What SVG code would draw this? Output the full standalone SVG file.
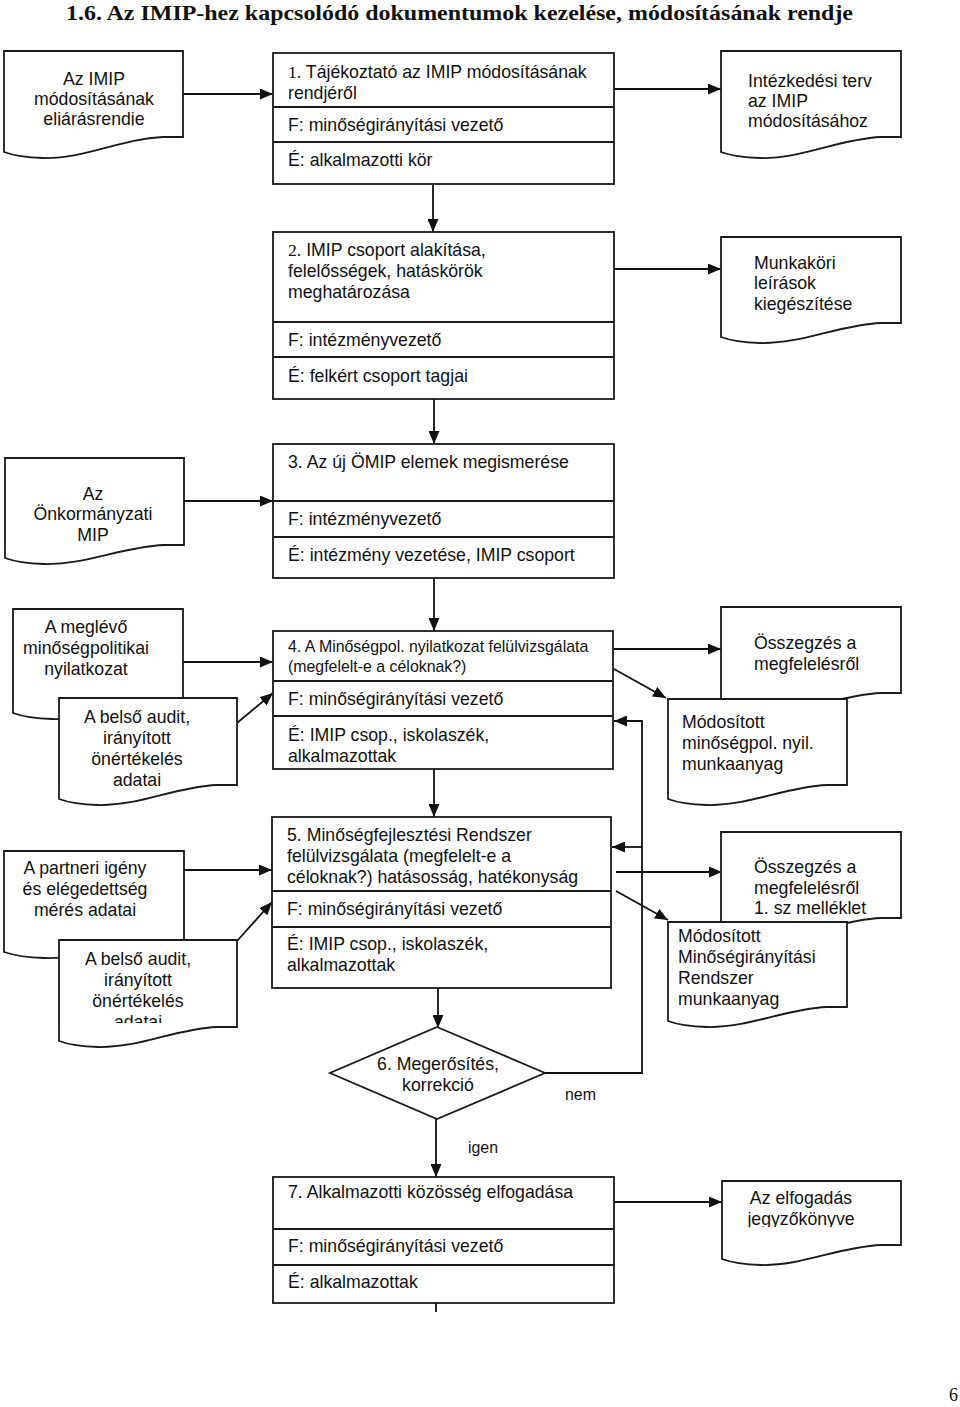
<svg xmlns="http://www.w3.org/2000/svg" width="960" height="1407" viewBox="0 0 960 1407">
<defs>
<style>
.bx{fill:#fff;stroke:#1a1a1a;stroke-width:1.8}
.dv{fill:none;stroke:#1a1a1a;stroke-width:1.8}
.doc{fill:#fff;stroke:#1a1a1a;stroke-width:1.8}
.t{font-family:"Liberation Sans",Arial,sans-serif;font-size:17.7px;fill:#111}
.ts{font-family:"Liberation Sans",Arial,sans-serif;font-size:15.9px;fill:#111}
.c{text-anchor:middle}
.ser{font-family:"Liberation Serif","Times New Roman",serif}
.ln{fill:none;stroke:#111;stroke-width:1.8}
</style>
<marker id="ah" markerUnits="userSpaceOnUse" markerWidth="13" markerHeight="11" refX="13" refY="5.5" orient="auto">
<path d="M0,0 L13,5.5 L0,11 Z" fill="#111"/>
</marker>
<clipPath id="cp1"><rect x="0" y="40" width="200" height="85.5"/></clipPath>
<clipPath id="cp10"><rect x="50" y="930" width="200" height="93"/></clipPath>
<clipPath id="cp13"><rect x="700" y="1170" width="220" height="57"/></clipPath>
</defs>
<rect width="960" height="1407" fill="#fff"/>

<text id="title" x="66" y="20" font-family="'Liberation Serif','Times New Roman',serif" font-weight="bold" font-size="22" textLength="787" lengthAdjust="spacingAndGlyphs" fill="#111">1.6. Az IMIP-hez kapcsolódó dokumentumok kezelése, módosításának rendje</text>

<g id="connectors">
<line class="ln" x1="183" y1="94" x2="273" y2="94" marker-end="url(#ah)"/>
<line class="ln" x1="614" y1="89" x2="721" y2="89" marker-end="url(#ah)"/>
<line class="ln" x1="433" y1="184" x2="433" y2="232" marker-end="url(#ah)"/>
<line class="ln" x1="614" y1="269" x2="721" y2="269" marker-end="url(#ah)"/>
<line class="ln" x1="434" y1="399" x2="434" y2="444" marker-end="url(#ah)"/>
<line class="ln" x1="184" y1="501" x2="273" y2="501" marker-end="url(#ah)"/>
<line class="ln" x1="434" y1="578" x2="434" y2="631" marker-end="url(#ah)"/>
<line class="ln" x1="183" y1="662" x2="273" y2="662" marker-end="url(#ah)"/>
<line class="ln" x1="237" y1="723" x2="273" y2="693" marker-end="url(#ah)"/>
<line class="ln" x1="613" y1="649" x2="721" y2="649" marker-end="url(#ah)"/>
<line class="ln" x1="614" y1="669" x2="666" y2="698" marker-end="url(#ah)"/>
<polyline class="ln" points="545,1073 642,1073 642,721 614,721" marker-end="url(#ah)"/>
<line class="ln" x1="642" y1="847" x2="612" y2="847" marker-end="url(#ah)"/>
<line class="ln" x1="434" y1="769" x2="434" y2="817" marker-end="url(#ah)"/>
<line class="ln" x1="184" y1="870" x2="272" y2="870" marker-end="url(#ah)"/>
<line class="ln" x1="237" y1="941" x2="272" y2="902" marker-end="url(#ah)"/>
<line class="ln" x1="616" y1="872" x2="722" y2="872" marker-end="url(#ah)"/>
<line class="ln" x1="616" y1="891" x2="668" y2="920" marker-end="url(#ah)"/>
<line class="ln" x1="438" y1="988" x2="438" y2="1028" marker-end="url(#ah)"/>
<line class="ln" x1="436" y1="1119" x2="436" y2="1177" marker-end="url(#ah)"/>
<line class="ln" x1="614" y1="1202" x2="722" y2="1202" marker-end="url(#ah)"/>
<line class="ln" x1="436" y1="1303" x2="436" y2="1312"/>
</g>

<g id="d1">
<path class="doc" d="M4,51 H183 V137 H163 C120,139 85,159 43,158 C25,157.5 12,155 4,152 Z"/>
<g clip-path="url(#cp1)">
<text class="t c" x="94" y="85">Az IMIP</text>
<text class="t c" x="94" y="105">módosításának</text>
<text class="t c" x="94" y="125">eljárásrendje</text>
</g>
</g>

<g id="n1">
<rect class="bx" x="273" y="53" width="341" height="131"/>
<line class="dv" x1="273" y1="107" x2="614" y2="107"/>
<line class="dv" x1="273" y1="142" x2="614" y2="142"/>
<text class="t" x="288" y="78"><tspan class="ser">1.</tspan> Tájékoztató az IMIP módosításának</text>
<text class="t" x="288" y="99">rendjéről</text>
<text class="t" x="288" y="131">F: minőségirányítási vezető</text>
<text class="t" x="288" y="166">É: alkalmazotti kör</text>
</g>

<g id="d2">
<path class="doc" d="M721,51 H901 V137 H881 C838,139 802,159 760,158 C742,157.5 729,155 721,152 Z"/>
<text class="t" x="748" y="87">Intézkedési terv</text>
<text class="t" x="748" y="107">az IMIP</text>
<text class="t" x="748" y="127">módosításához</text>
</g>

<g id="n2">
<rect class="bx" x="273" y="232" width="341" height="167"/>
<line class="dv" x1="273" y1="322" x2="614" y2="322"/>
<line class="dv" x1="273" y1="357" x2="614" y2="357"/>
<text class="t" x="288" y="256"><tspan class="ser">2.</tspan> IMIP csoport alakítása,</text>
<text class="t" x="288" y="277">felelősségek, hatáskörök</text>
<text class="t" x="288" y="298">meghatározása</text>
<text class="t" x="288" y="346">F: intézményvezető</text>
<text class="t" x="288" y="382">É: felkért csoport tagjai</text>
</g>

<g id="d3">
<path class="doc" d="M721,237 H901 V323 H881 C838,325 802,344 760,343 C742,342.5 729,340 721,337 Z"/>
<text class="t" x="754" y="269">Munkaköri</text>
<text class="t" x="754" y="289">leírások</text>
<text class="t" x="754" y="310">kiegészítése</text>
</g>

<g id="d4">
<path class="doc" d="M5,458 H184 V545 H164 C121,547 86,565 44,564 C26,563.5 13,561 5,558 Z"/>
<text class="t c" x="93" y="500">Az</text>
<text class="t c" x="93" y="520">Önkormányzati</text>
<text class="t c" x="93" y="541">MIP</text>
</g>

<g id="n3">
<rect class="bx" x="273" y="444" width="341" height="134"/>
<line class="dv" x1="273" y1="501" x2="614" y2="501"/>
<line class="dv" x1="273" y1="537" x2="614" y2="537"/>
<text class="t" x="288" y="468">3. Az új ÖMIP elemek megismerése</text>
<text class="t" x="288" y="525">F: intézményvezető</text>
<text class="t" x="288" y="561">É: intézmény vezetése, IMIP csoport</text>
</g>

<g id="d5">
<path class="doc" d="M13,609 H183 V705 H163 C120,707 94,720 52,719 C34,718.5 21,716 13,713 Z"/>
<text class="t c" x="86" y="633">A meglévő</text>
<text class="t c" x="86" y="654">minőségpolitikai</text>
<text class="t c" x="86" y="675">nyilatkozat</text>
</g>

<g id="d6">
<path class="doc" d="M59,698 H237 V785 H217 C174,787 140,806 98,805 C80,804.5 67,802 59,799 Z"/>
<text class="t c" x="137" y="723">A belső audit,</text>
<text class="t c" x="137" y="744">irányított</text>
<text class="t c" x="137" y="765">önértékelés</text>
<text class="t c" x="137" y="786">adatai</text>
</g>

<g id="n4">
<rect class="bx" x="273" y="631" width="340" height="138"/>
<line class="dv" x1="273" y1="681" x2="613" y2="681"/>
<line class="dv" x1="273" y1="716" x2="613" y2="716"/>
<text class="ts" x="288" y="652">4. A Minőségpol. nyilatkozat felülvizsgálata</text>
<text class="ts" x="288" y="672">(megfelelt-e a céloknak?)</text>
<text class="t" x="288" y="705">F: minőségirányítási vezető</text>
<text class="t" x="288" y="741">É: IMIP csop., iskolaszék,</text>
<text class="t" x="288" y="762">alkalmazottak</text>
</g>

<g id="d7">
<path class="doc" d="M721,607 H901 V693 H881 C838,695 802,714 760,713 C742,712.5 729,710 721,707 Z"/>
<text class="t" x="754" y="649">Összegzés a</text>
<text class="t" x="754" y="670">megfelelésről</text>
</g>

<g id="d8">
<path class="doc" d="M668,699 H847 V785 H827 C784,787 749,806 707,805 C689,804.5 676,802 668,799 Z"/>
<text class="t" x="682" y="728">Módosított</text>
<text class="t" x="682" y="749">minőségpol. nyil.</text>
<text class="t" x="682" y="770">munkaanyag</text>
</g>

<g id="d9">
<path class="doc" d="M4,851 H184 V945 H164 C121,947 86,959 44,958 C26,957.5 13,955 4,952 Z"/>
<text class="t c" x="85" y="874">A partneri igény</text>
<text class="t c" x="85" y="895">és elégedettség</text>
<text class="t c" x="85" y="916">mérés adatai</text>
</g>

<g id="d10">
<path class="doc" d="M59,940 H237 V1027 H217 C174,1029 140,1048 98,1047 C80,1046.5 67,1044 59,1041 Z"/>
<g clip-path="url(#cp10)">
<text class="t c" x="138" y="965">A belső audit,</text>
<text class="t c" x="138" y="986">irányított</text>
<text class="t c" x="138" y="1007">önértékelés</text>
<text class="t c" x="138" y="1028">adatai</text>
</g>
</g>

<g id="n5">
<rect class="bx" x="272" y="817" width="339" height="171"/>
<line class="dv" x1="272" y1="891" x2="611" y2="891"/>
<line class="dv" x1="272" y1="927" x2="611" y2="927"/>
<text class="t" x="287" y="841">5. Minőségfejlesztési Rendszer</text>
<text class="t" x="287" y="862">felülvizsgálata (megfelelt-e a</text>
<text class="t" x="287" y="883">céloknak?) hatásosság, hatékonyság</text>
<text class="t" x="287" y="915">F: minőségirányítási vezető</text>
<text class="t" x="287" y="950">É: IMIP csop., iskolaszék,</text>
<text class="t" x="287" y="971">alkalmazottak</text>
</g>

<g id="d11">
<path class="doc" d="M721,832 H901 V918 H881 C838,920 802,939 760,938 C742,937.5 729,935 721,932 Z"/>
<text class="t" x="754" y="873">Összegzés a</text>
<text class="t" x="754" y="894">megfelelésről</text>
<text class="t" x="754" y="914">1. sz melléklet</text>
</g>

<g id="d12">
<path class="doc" d="M668,922 H847 V1007 H827 C784,1009 749,1028 707,1027 C689,1026.5 676,1024 668,1021 Z"/>
<text class="t" x="678" y="942">Módosított</text>
<text class="t" x="678" y="963">Minőségirányítási</text>
<text class="t" x="678" y="984">Rendszer</text>
<text class="t" x="678" y="1005">munkaanyag</text>
</g>

<g id="n6">
<polygon class="bx" points="437,1027 545,1073 437,1119 330,1073"/>
<text class="t c" x="438" y="1070">6. Megerősítés,</text>
<text class="t c" x="438" y="1091">korrekció</text>
</g>

<g id="labels">
<text class="ts" x="565" y="1100">nem</text>
<text class="ts" x="468" y="1153">igen</text>
</g>

<g id="n7">
<rect class="bx" x="273" y="1177" width="341" height="126"/>
<line class="dv" x1="273" y1="1229" x2="614" y2="1229"/>
<line class="dv" x1="273" y1="1265" x2="614" y2="1265"/>
<text class="t" x="288" y="1198">7. Alkalmazotti közösség elfogadása</text>
<text class="t" x="288" y="1252">F: minőségirányítási vezető</text>
<text class="t" x="288" y="1288">É: alkalmazottak</text>
</g>

<g id="d13">
<path class="doc" d="M722,1181 H901 V1245 H881 C838,1247 802,1266 761,1265 C743,1264.5 730,1262 722,1259 Z"/>
<g clip-path="url(#cp13)">
<text class="t c" x="801" y="1204">Az elfogadás</text>
<text class="t c" x="801" y="1225">jegyzőkönyve</text>
</g>
</g>

<text id="page" x="958" y="1401" text-anchor="end" font-family="'Liberation Serif','Times New Roman',serif" font-size="18" fill="#111">6</text>
</svg>
